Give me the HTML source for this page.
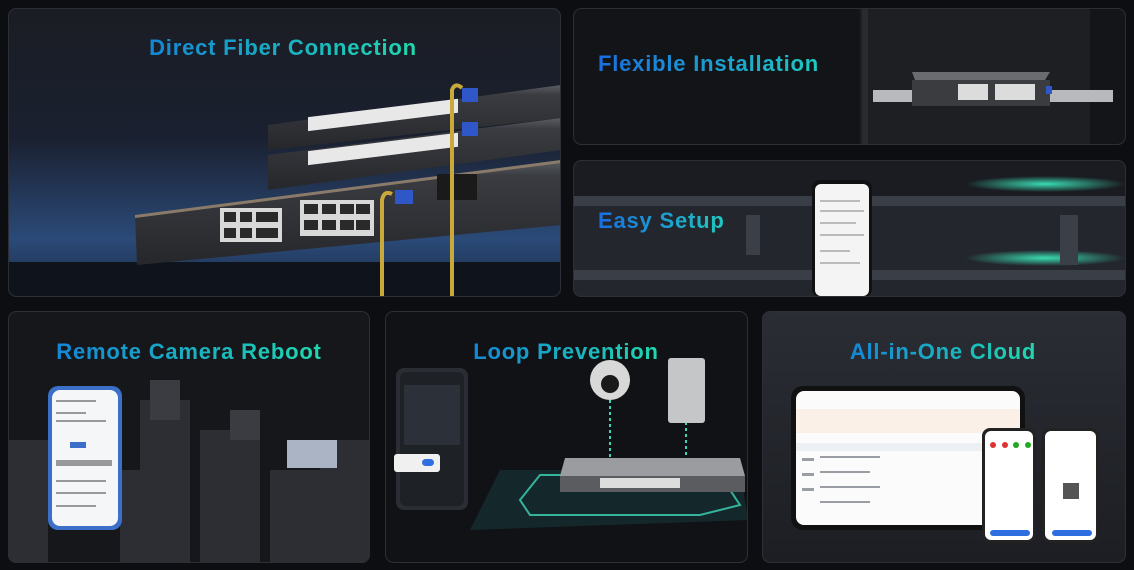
<!DOCTYPE html>
<html><head><meta charset="utf-8"><style>
html,body{margin:0;padding:0;background:#0d0e12;}
svg{display:block}
text{font-family:"Liberation Sans","DejaVu Sans",sans-serif;font-weight:bold;letter-spacing:0.8px}
</style></head><body>
<svg width="1134" height="570" viewBox="0 0 1134 570" xmlns="http://www.w3.org/2000/svg">
<defs>
<linearGradient id="tg" x1="0" x2="1" y1="0" y2="0"><stop offset="0" stop-color="#1486d6"/><stop offset="1" stop-color="#20d8ae"/></linearGradient>
<linearGradient id="tg2" x1="0" x2="1"><stop offset="0" stop-color="#1a6ee0"/><stop offset="1" stop-color="#1ec9c0"/></linearGradient>
<linearGradient id="p1" x1="0" y1="0" x2="0" y2="1"><stop offset="0" stop-color="#1b1d23"/><stop offset="0.45" stop-color="#1a2030"/><stop offset="0.8" stop-color="#2b4a78"/><stop offset="1" stop-color="#1a2a44"/></linearGradient>
<linearGradient id="p6" x1="0" y1="0" x2="0" y2="1"><stop offset="0" stop-color="#2a2d34"/><stop offset="1" stop-color="#1c1e23"/></linearGradient>
<linearGradient id="sw" x1="0" y1="0" x2="0" y2="1"><stop offset="0" stop-color="#5a5d63"/><stop offset="0.15" stop-color="#3a3c41"/><stop offset="1" stop-color="#26272b"/></linearGradient>
<radialGradient id="glow"><stop offset="0" stop-color="#3cf0c0" stop-opacity="0.9"/><stop offset="1" stop-color="#3cf0c0" stop-opacity="0"/></radialGradient>
<clipPath id="c1"><rect x="8" y="8" width="553" height="289" rx="8"/></clipPath>
<clipPath id="c2"><rect x="573" y="8" width="553" height="137" rx="8"/></clipPath>
<clipPath id="c3"><rect x="573" y="160" width="553" height="137" rx="8"/></clipPath>
<clipPath id="c4"><rect x="8" y="311" width="362" height="252" rx="8"/></clipPath>
<clipPath id="c5"><rect x="385" y="311" width="363" height="252" rx="8"/></clipPath>
<clipPath id="c6"><rect x="762" y="311" width="364" height="252" rx="8"/></clipPath>
</defs>
<rect width="1134" height="570" fill="#0d0e12"/>

<!-- Panel 1 -->
<g clip-path="url(#c1)">
<rect x="8" y="8" width="553" height="289" fill="url(#p1)"/>
<rect x="8" y="262" width="553" height="35" fill="#0f141c"/>
<polygon points="268,125 561,85 561,118 268,150" fill="url(#sw)"/>
<polygon points="268,155 561,118 561,150 268,190" fill="url(#sw)"/>
<polygon points="135,215 561,160 561,225 137,265" fill="url(#sw)"/>
<polygon points="135,215 561,160 561,163 135,218" fill="#8a7a6a"/>
<g fill="#e8e8e8">
<rect x="308" y="117" width="150" height="14" transform="skewY(-7) translate(0,38)"/>
<rect x="308" y="151" width="150" height="14" transform="skewY(-7) translate(0,38)"/>
</g>
<g fill="#d8d8d8">
<rect x="220" y="208" width="62" height="34"/>
<rect x="300" y="200" width="74" height="36"/>
</g>
<g fill="#2a2a2a">
<rect x="224" y="212" width="12" height="10"/><rect x="240" y="212" width="12" height="10"/><rect x="256" y="212" width="12" height="10"/><rect x="268" y="212" width="10" height="10"/>
<rect x="224" y="228" width="12" height="10"/><rect x="240" y="228" width="12" height="10"/><rect x="256" y="228" width="12" height="10"/><rect x="268" y="228" width="10" height="10"/>
<rect x="304" y="204" width="14" height="10"/><rect x="322" y="204" width="14" height="10"/><rect x="340" y="204" width="14" height="10"/><rect x="356" y="204" width="14" height="10"/>
<rect x="304" y="220" width="14" height="10"/><rect x="322" y="220" width="14" height="10"/><rect x="340" y="220" width="14" height="10"/><rect x="356" y="220" width="14" height="10"/>
</g>
<rect x="437" y="174" width="40" height="26" fill="#1a1a1a"/>
<path d="M382,297 L382,200 Q384,190 392,194" stroke="#c9a93a" stroke-width="4" fill="none"/>
<path d="M452,297 L452,90 Q455,82 462,88" stroke="#c9a93a" stroke-width="4" fill="none"/>
<rect x="395" y="190" width="18" height="14" fill="#2f57c8"/>
<rect x="462" y="88" width="16" height="14" fill="#2f57c8"/>
<rect x="462" y="122" width="16" height="14" fill="#2f57c8"/>
<text x="283" y="55" font-size="22" text-anchor="middle" fill="url(#tg)">Direct Fiber Connection</text>
</g>
<rect x="8.5" y="8.5" width="552" height="288" rx="8" fill="none" stroke="#2c2f36"/>

<!-- Panel 2 -->
<g clip-path="url(#c2)">
<rect x="573" y="8" width="553" height="137" fill="#131418"/>
<rect x="860" y="8" width="266" height="137" fill="#1e1f23"/>
<rect x="862" y="8" width="6" height="137" fill="#2a2b2f"/>
<rect x="1090" y="8" width="36" height="137" fill="#141518"/>
<rect x="873" y="90" width="240" height="12" fill="#b8b9bc"/>
<polygon points="912,72 1050,72 1045,80 915,80" fill="#6a6c70"/>
<rect x="912" y="80" width="138" height="26" fill="#3a3c40"/>
<rect x="958" y="84" width="30" height="16" fill="#dcdcdc"/><rect x="995" y="84" width="40" height="16" fill="#dcdcdc"/>
<rect x="1046" y="86" width="6" height="8" fill="#2f57c8"/>
<text x="598" y="71" font-size="22" fill="url(#tg2)" letter-spacing="1.4">Flexible Installation</text>
</g>
<rect x="573.5" y="8.5" width="552" height="136" rx="8" fill="none" stroke="#2c2f36"/>

<!-- Panel 3 -->
<g clip-path="url(#c3)">
<rect x="573" y="160" width="553" height="137" fill="#1a1c22"/>
<rect x="573" y="196" width="553" height="10" fill="#3a3e46"/>
<rect x="573" y="270" width="553" height="10" fill="#3a3e46"/>
<rect x="573" y="206" width="553" height="64" fill="#23262d"/>
<rect x="573" y="280" width="553" height="17" fill="#23262d"/>
<ellipse cx="1045" cy="184" rx="80" ry="8" fill="url(#glow)"/>
<ellipse cx="1045" cy="258" rx="80" ry="8" fill="url(#glow)"/>
<rect x="746" y="215" width="14" height="40" fill="#3b3f48"/>
<rect x="1060" y="215" width="18" height="50" fill="#3b3f48"/>
<rect x="812" y="180" width="60" height="117" rx="8" fill="#111"/>
<rect x="815" y="184" width="54" height="112" rx="6" fill="#f4f4f5"/>
<g fill="#bbb"><rect x="820" y="200" width="40" height="2"/><rect x="820" y="210" width="44" height="2"/><rect x="820" y="222" width="36" height="2"/><rect x="820" y="234" width="44" height="2"/><rect x="820" y="250" width="30" height="2"/><rect x="820" y="262" width="40" height="2"/></g>
<text x="598" y="228" font-size="22" fill="url(#tg2)">Easy Setup</text>
</g>
<rect x="573.5" y="160.5" width="552" height="136" rx="8" fill="none" stroke="#2c2f36"/>

<!-- Panel 4 -->
<g clip-path="url(#c4)">
<rect x="8" y="311" width="362" height="252" fill="#16171b"/>
<g fill="#2c2e33">
<rect x="140" y="400" width="50" height="163"/><rect x="200" y="430" width="60" height="133"/><rect x="270" y="470" width="50" height="93"/><rect x="320" y="440" width="50" height="123"/><rect x="8" y="440" width="40" height="123"/><rect x="120" y="470" width="30" height="93"/>
</g>
<g fill="#3a3c42"><rect x="150" y="380" width="30" height="40"/><rect x="230" y="410" width="30" height="30"/></g>
<rect x="287" y="440" width="50" height="28" fill="#aab4c4"/>
<rect x="48" y="386" width="74" height="144" rx="10" fill="#3b6fc8"/>
<rect x="52" y="390" width="66" height="136" rx="8" fill="#f5f6f8"/>
<g fill="#999"><rect x="56" y="400" width="40" height="2"/><rect x="56" y="412" width="30" height="2"/><rect x="56" y="420" width="50" height="2"/><rect x="56" y="460" width="56" height="6"/><rect x="56" y="480" width="50" height="2"/><rect x="56" y="492" width="50" height="2"/><rect x="56" y="505" width="40" height="2"/></g>
<rect x="70" y="442" width="16" height="6" fill="#3b6fc8"/>
<text x="189" y="359" font-size="22" text-anchor="middle" fill="url(#tg)">Remote Camera Reboot</text>
</g>
<rect x="8.5" y="311.5" width="361" height="251" rx="8" fill="none" stroke="#2c2f36"/>

<!-- Panel 5 -->
<g clip-path="url(#c5)">
<rect x="385" y="311" width="363" height="252" fill="#101215"/>
<polygon points="500,470 740,470 748,520 470,530" fill="#14282c"/>
<path d="M520,500 L540,475 L720,475 L740,505 L700,515 L530,515 Z" stroke="#3fd6b8" stroke-width="2" fill="none" opacity="0.8"/>
<line x1="610" y1="400" x2="610" y2="460" stroke="#3fd6b8" stroke-width="2" stroke-dasharray="3,3"/>
<line x1="686" y1="422" x2="686" y2="460" stroke="#3fd6b8" stroke-width="2" stroke-dasharray="3,3"/>
<polygon points="565,458 740,458 745,476 560,476" fill="#9a9ca0"/>
<rect x="560" y="476" width="185" height="16" fill="#5a5c60"/>
<rect x="600" y="478" width="80" height="10" fill="#ddd"/>
<circle cx="610" cy="380" r="20" fill="#d8d8d8"/><circle cx="610" cy="384" r="9" fill="#1a1a1a"/>
<rect x="668" y="358" width="37" height="65" rx="3" fill="#c4c6c8"/>
<rect x="396" y="368" width="72" height="142" rx="8" fill="#2a2d33"/>
<rect x="400" y="372" width="64" height="134" rx="6" fill="#1e2126"/>
<rect x="404" y="385" width="56" height="60" fill="#2c3038"/>
<rect x="394" y="454" width="46" height="18" rx="3" fill="#f0f0f0"/>
<rect x="422" y="459" width="12" height="7" rx="3.5" fill="#2f6ee0"/>
<text x="566" y="359" font-size="22" text-anchor="middle" fill="url(#tg)">Loop Prevention</text>
</g>
<rect x="385.5" y="311.5" width="362" height="251" rx="8" fill="none" stroke="#2c2f36"/>

<!-- Panel 6 -->
<g clip-path="url(#c6)">
<rect x="762" y="311" width="364" height="252" fill="url(#p6)"/>
<rect x="791" y="386" width="234" height="144" rx="12" fill="#111"/>
<rect x="796" y="391" width="224" height="134" rx="8" fill="#fbfbfb"/>
<rect x="796" y="409" width="224" height="24" fill="#fbf0e8"/>
<rect x="796" y="443" width="224" height="8" fill="#eceff3"/>
<g fill="#9a9da3"><rect x="802" y="458" width="12" height="3"/><rect x="820" y="456" width="60" height="2"/><rect x="802" y="473" width="12" height="3"/><rect x="820" y="471" width="50" height="2"/><rect x="802" y="488" width="12" height="3"/><rect x="820" y="486" width="60" height="2"/><rect x="820" y="501" width="50" height="2"/></g>
<rect x="982" y="428" width="54" height="115" rx="8" fill="#222"/>
<rect x="985" y="431" width="48" height="109" rx="6" fill="#fff"/>
<rect x="990" y="530" width="40" height="6" rx="3" fill="#2f6ee0"/>
<g fill="#d33"><circle cx="993" cy="445" r="3"/><circle cx="1005" cy="445" r="3"/></g><g fill="#2a2"><circle cx="1016" cy="445" r="3"/><circle cx="1028" cy="445" r="3"/></g>
<rect x="1042" y="428" width="57" height="115" rx="8" fill="#222"/>
<rect x="1045" y="431" width="51" height="109" rx="6" fill="#fff"/>
<rect x="1052" y="530" width="40" height="6" rx="3" fill="#2f6ee0"/>
<rect x="1063" y="483" width="16" height="16" fill="#555"/>
<text x="943" y="359" font-size="22" text-anchor="middle" fill="url(#tg)">All-in-One Cloud</text>
</g>
<rect x="762.5" y="311.5" width="363" height="251" rx="8" fill="none" stroke="#2c2f36"/>
</svg>
</body></html>
